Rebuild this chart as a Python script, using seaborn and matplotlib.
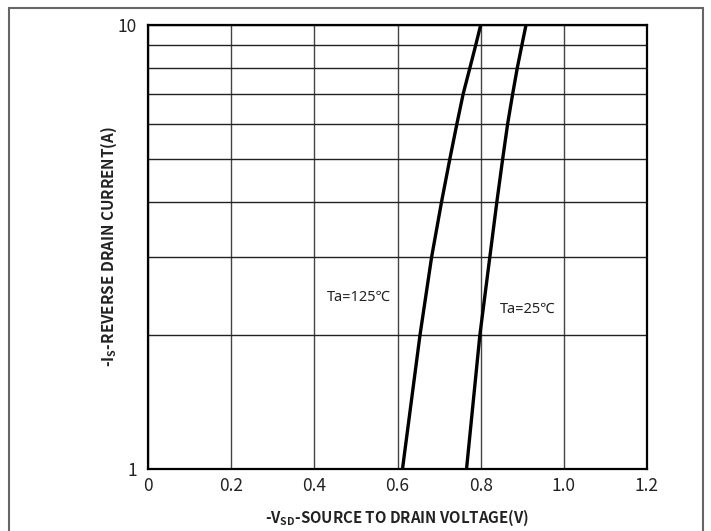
import matplotlib
matplotlib.use("Agg")
import matplotlib.pyplot as plt
import seaborn as sns
import pandas as pd
from matplotlib.patches import Rectangle
from matplotlib.ticker import FixedLocator, NullFormatter, LogLocator

# ---- data ----
current_a = [1, 2, 3, 4, 5, 6, 7, 8, 9, 10]
vsd_125c = [0.612, 0.654, 0.682, 0.706, 0.726, 0.743, 0.758, 0.774, 0.788, 0.800]
vsd_25c = [0.766, 0.798, 0.822, 0.839, 0.853, 0.865, 0.877, 0.888, 0.899, 0.909]
x_ticks = [0, 0.2, 0.4, 0.6, 0.8, 1.0, 1.2]
x_tick_labels = ["0", "0.2", "0.4", "0.6", "0.8", "1.0", "1.2"]
y_ticks = [1, 10]
y_tick_labels = ["1", "10"]
series_labels = ["Ta=125℃", "Ta=25℃"]

sns.set_style("white")
plt.rcParams["font.family"] = ["Noto Sans CJK SC", "DejaVu Sans"]
plt.rcParams["mathtext.fontset"] = "custom"
plt.rcParams["mathtext.rm"] = "Noto Sans CJK SC"
plt.rcParams["mathtext.bf"] = "Noto Sans CJK SC:bold"

df = pd.concat([
    pd.DataFrame({"V": vsd_125c, "I": current_a, "T": series_labels[0]}),
    pd.DataFrame({"V": vsd_25c, "I": current_a, "T": series_labels[1]}),
])

fig = plt.figure(figsize=(7.11, 5.31), dpi=100)
ax = fig.add_axes([148 / 711, 62 / 531, 499 / 711, 444 / 531])

sns.lineplot(data=df, x="V", y="I", hue="T", units="T", estimator=None, sort=False,
             palette=["black", "black"], linewidth=2.4, legend=False, ax=ax)

ax.set_yscale("log")
ax.set_xlim(0, 1.2)
ax.set_ylim(1, 10)

ax.xaxis.set_major_locator(FixedLocator(x_ticks))
ax.set_xticklabels(x_tick_labels)
ax.yaxis.set_major_locator(FixedLocator(y_ticks))
ax.set_yticklabels(y_tick_labels)
ax.yaxis.set_minor_locator(LogLocator(base=10, subs=range(2, 10)))
ax.yaxis.set_minor_formatter(NullFormatter())

ax.grid(True, which="major", axis="x", color="#444444", linewidth=1.0)
ax.grid(True, which="both", axis="y", color="#222222", linewidth=1.0)
ax.tick_params(axis="both", which="both", length=0)
ax.tick_params(axis="x", pad=6)
ax.tick_params(axis="y", pad=8)
for lab in ax.get_xticklabels() + ax.get_yticklabels():
    lab.set_fontfamily(["Noto Sans CJK SC", "DejaVu Sans"])
    lab.set_fontsize(12.5)
    lab.set_color("#222222")

for s in ax.spines.values():
    s.set_color("black")
    s.set_linewidth(1.6)

ax.set_xlabel(r"-V$_{\mathbf{SD}}$-SOURCE TO DRAIN VOLTAGE(V)",
              fontsize=10.8, fontweight="bold", labelpad=9, color="#222222")
ax.set_ylabel(r"-I$_{\mathbf{S}}$-REVERSE DRAIN CURRENT(A)",
              fontsize=11, fontweight="bold", labelpad=-1, color="#222222")

ax.text(0.430, 2.43, series_labels[0], fontsize=10.5, ha="left", va="center",
        color="#222222", family=["Noto Sans", "Noto Sans CJK SC", "DejaVu Sans"])
ax.text(0.846, 2.29, series_labels[1], fontsize=10.5, ha="left", va="center",
        color="#222222", family=["Noto Sans", "Noto Sans CJK SC", "DejaVu Sans"])

fig.patches.append(Rectangle((9 / 711, -0.05), 694 / 711, 1.05 - 8 / 531,
                             transform=fig.transFigure, fill=False,
                             edgecolor="#666666", linewidth=1.5))

fig.savefig("out.png", dpi=100)
